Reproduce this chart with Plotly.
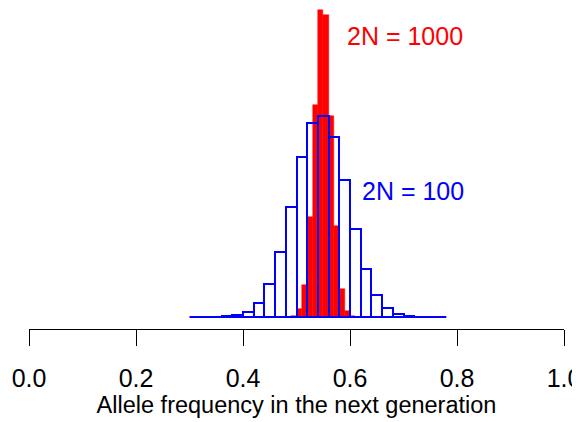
import plotly.graph_objects as go

# ---- data ----
# 2N = 100 : histogram counts, bins of width 0.02 from 0.30 to 0.78
blue_edges = [0.30, 0.32, 0.34, 0.36, 0.38, 0.40, 0.42, 0.44, 0.46, 0.48, 0.50, 0.52,
              0.54, 0.56, 0.58, 0.60, 0.62, 0.64, 0.66, 0.68, 0.70, 0.72, 0.74, 0.76, 0.78]
blue_counts = [0, 0, 2, 6, 16, 41, 112, 260, 509, 858, 1248, 1516,
               1573, 1406, 1069, 684, 372, 170, 70, 24, 9, 3, 1, 0]

# 2N = 1000 : histogram counts, bins of width 0.01 from 0.47 to 0.62
red_edges = [0.47, 0.48, 0.49, 0.50, 0.51, 0.52, 0.53, 0.54, 0.55, 0.56, 0.57,
             0.58, 0.59, 0.60, 0.61, 0.62]
red_counts = [0, 2, 8, 60, 250, 778, 1654, 2400, 2361, 1568, 710, 216, 49, 8, 1]

tick_vals = [0.0, 0.2, 0.4, 0.6, 0.8, 1.0]
tick_text = ["0.0", "0.2", "0.4", "0.6", "0.8", "1.0"]

label_small = "2N = 100"
label_large = "2N = 1000"
x_title = "Allele frequency in the next generation"

BLUE = "#0000FF"
RED = "#FF0000"
FONT = "Liberation Sans, Arial, sans-serif"


def centers(edges):
    return [(a + b) / 2 for a, b in zip(edges[:-1], edges[1:])]


def widths(edges):
    return [b - a for a, b in zip(edges[:-1], edges[1:])]


fig = go.Figure()

# blue bars, white filled
fig.add_trace(go.Bar(
    x=centers(blue_edges), y=blue_counts, width=widths(blue_edges),
    marker=dict(color="white", line=dict(color=BLUE, width=2)),
    showlegend=False, hoverinfo="skip"))

# red bars, filled
fig.add_trace(go.Bar(
    x=centers(red_edges), y=red_counts, width=widths(red_edges),
    marker=dict(color=RED, line=dict(color=RED, width=0.5)),
    showlegend=False, hoverinfo="skip"))

# blue outlines on top
fig.add_trace(go.Bar(
    x=centers(blue_edges), y=blue_counts, width=widths(blue_edges),
    marker=dict(color="rgba(0,0,0,0)", line=dict(color=BLUE, width=2)),
    showlegend=False, hoverinfo="skip"))

# baseline of the blue histogram (zero-height bins)
fig.add_trace(go.Scatter(
    x=[blue_edges[0], blue_edges[-1]], y=[0, 0], mode="lines",
    line=dict(color=BLUE, width=2), showlegend=False, hoverinfo="skip"))

# page has an 8px body margin; plot area spans page y 8..329, zero at page y 317
px_per_count = 0.128
y_top = (317 - 8) / px_per_count
y_bot = -12 / px_per_count

fig.add_annotation(x=0.591, y=2195, text=label_large, showarrow=False,
                   xanchor="left", yanchor="middle",
                   font=dict(family=FONT, size=25, color=RED))
fig.add_annotation(x=0.619, y=984, text=label_small, showarrow=False,
                   xanchor="left", yanchor="middle",
                   font=dict(family=FONT, size=25, color=BLUE))

fig.update_layout(
    width=580, height=422,
    margin=dict(l=21, r=24, t=0, b=101),
    paper_bgcolor="white", plot_bgcolor="white",
    barmode="overlay", bargap=0,
    font=dict(family=FONT, size=22, color="black"),
)
fig.update_xaxes(
    range=[0, 1], tickvals=tick_vals, ticktext=tick_text,
    showline=True, linecolor="black", linewidth=1,
    ticks="outside", ticklen=16, tickwidth=1, tickcolor="black",
    showgrid=False, zeroline=False, ticklabelstandoff=11,
    ticklabeloverflow="allow",
    tickfont=dict(family=FONT, size=25, color="black"),
    title=dict(text=x_title, font=dict(family=FONT, size=23.5, color="black"), standoff=4),
    automargin=False,
)
fig.update_yaxes(range=[y_bot, y_top], visible=False, showgrid=False, zeroline=False)

fig.write_html("out.html")
